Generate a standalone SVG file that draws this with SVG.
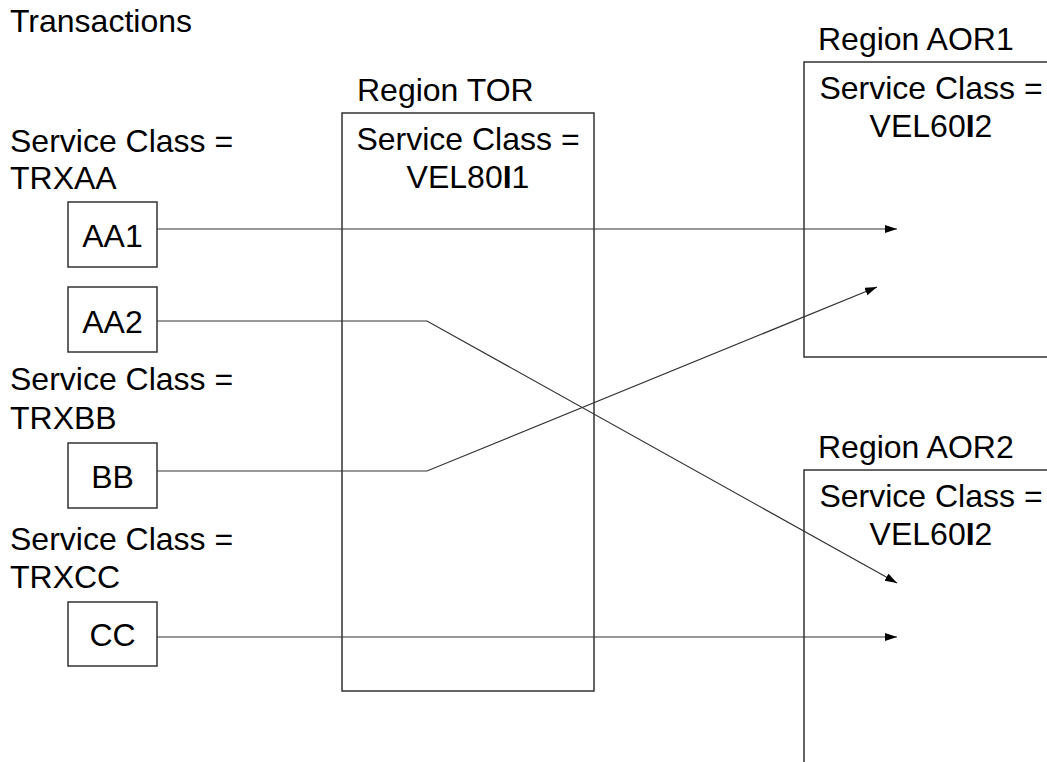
<svg xmlns="http://www.w3.org/2000/svg" width="1047" height="762" viewBox="0 0 1047 762">
<style>
text{font-family:"Liberation Sans",Arial,sans-serif;font-size:32px;fill:#000}
.box{fill:none;stroke:#333;stroke-width:1.5}
.c{text-anchor:middle}
.ln{fill:none;stroke:#333;stroke-width:1.2}
.b{font-weight:bold}
</style>
<defs>
<marker id="ah" markerUnits="userSpaceOnUse" markerWidth="13" markerHeight="10" refX="12" refY="4" orient="auto">
<path d="M0,0 L12,4 L0,8 z" fill="#000"/>
</marker>
</defs>
<rect width="1047" height="762" fill="#fff"/>
<text x="10" y="32">Transactions</text>
<g id="labels-left">
<text x="10" y="152">Service Class =</text>
<text x="10" y="189">TRXAA</text>
<text x="10" y="390">Service Class =</text>
<text x="10" y="429">TRXBB</text>
<text x="10" y="550">Service Class =</text>
<text x="10" y="588">TRXCC</text>
</g>
<g id="tor">
<text x="357" y="101">Region TOR</text>
<rect class="box" x="342" y="113" width="252" height="578"/>
<text class="c" x="468" y="150">Service Class =</text>
<text class="c" x="468" y="188">VEL80<tspan class="b">I</tspan>1</text>
</g>
<g id="aor1">
<text x="818" y="50">Region AOR1</text>
<rect class="box" x="804" y="62" width="260" height="295"/>
<text class="c" x="931" y="99">Service Class =</text>
<text class="c" x="931" y="137">VEL60<tspan class="b">I</tspan>2</text>
</g>
<g id="aor2">
<text x="818" y="458">Region AOR2</text>
<rect class="box" x="804" y="470" width="260" height="320"/>
<text class="c" x="931" y="507">Service Class =</text>
<text class="c" x="931" y="545">VEL60<tspan class="b">I</tspan>2</text>
</g>
<g id="connectors">
<path class="ln" d="M157,229 L897,229" marker-end="url(#ah)"/>
<path class="ln" d="M157,321 L427,321 L897,583" marker-end="url(#ah)"/>
<path class="ln" d="M157,471 L427,471 L877,287" marker-end="url(#ah)"/>
<path class="ln" d="M157,637 L897,637" marker-end="url(#ah)"/>
</g>
<g id="aa1">
<rect class="box" x="68" y="202" width="89" height="65"/>
<text class="c" x="112.5" y="247">AA1</text>
</g>
<g id="aa2">
<rect class="box" x="68" y="287" width="89" height="65"/>
<text class="c" x="112.5" y="333">AA2</text>
</g>
<g id="bb">
<rect class="box" x="68" y="443" width="89" height="65"/>
<text class="c" x="112.5" y="488">BB</text>
</g>
<g id="cc">
<rect class="box" x="68" y="602" width="89" height="64"/>
<text class="c" x="112.5" y="646">CC</text>
</g>
</svg>
